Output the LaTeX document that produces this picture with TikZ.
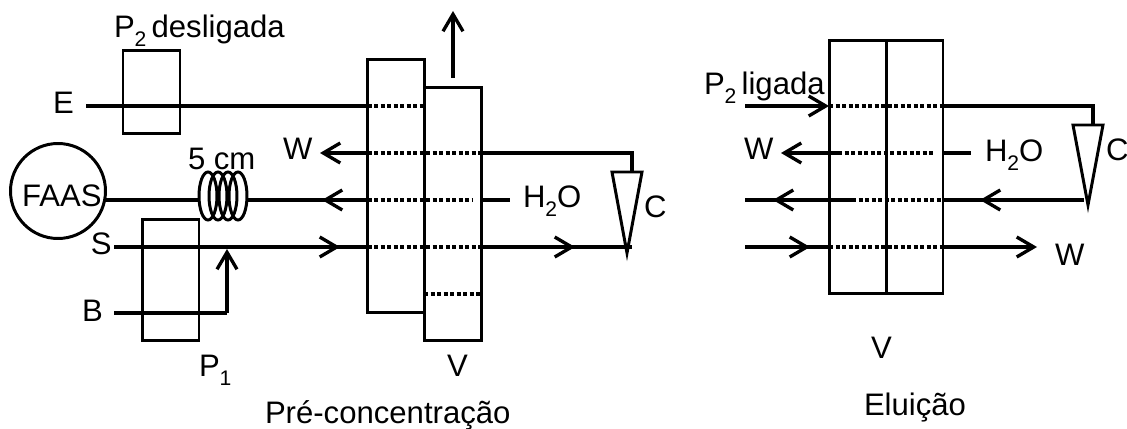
\documentclass[tikz,border=0pt]{standalone}
\usepackage{fontspec}
\setmainfont{Liberation Sans}
\usetikzlibrary{arrows.meta}
\newcommand{\indice}[1]{\raisebox{-5pt}{\fontsize{12}{12}\selectfont #1}}
\tikzset{
  caixa/.style={draw, line width=1.7pt, minimum width=1.14cm, inner sep=0pt, outer sep=0pt},
  rotulo/.style={anchor=base west, inner sep=0pt, outer sep=0pt},
  tubo/.style={line width=2.2pt},
  furo/.style={line width=2.2pt, dash pattern=on 2.4pt off 1.3pt},
  seta/.style={tubo, -{Straight Barb[length=3.4mm, width=4mm, line width=1.9pt]}},
  bobina/.style={line width=1.7pt},
  cone/.style={draw, line width=1.7pt, fill=white}
}
\begin{document}
\begin{tikzpicture}[x=0.02cm, y=-0.02cm, font=\fontsize{17.7}{19}\selectfont]
  \useasboundingbox (0,0) rectangle (1127,429);

  % pre-concentracao
  \node[caixa, minimum height=1.68cm] (ptwo) at (151.5,92) {};
  \node[caixa, minimum height=2.44cm] (pone) at (170.5,280) {};
  \node[caixa, minimum height=5.08cm] (vesq) at (396,186) {};
  \node[caixa, minimum height=5.08cm] (vdir) at (453,214) {};
  \node[draw, circle, line width=1.7pt, minimum size=1.9cm, inner sep=0pt, outer sep=0pt] (faas) at (58,191) {};

  \node[rotulo] (lptwo) at (114,38) {P\indice{2}\,desligada};
  \node[rotulo] (le) at (53,114) {E};
  \node[rotulo] (lw) at (283,160) {W};
  \node[rotulo] (lcm) at (188,170) {5 cm};
  \node[rotulo] (lfaas) at (22,207) {FAAS};
  \node[rotulo] (ls) at (91,255) {S};
  \node[rotulo] (lb) at (82,321) {B};
  \node[rotulo] (lpone) at (199,377) {P\indice{1}};
  \node[rotulo] (lv) at (447,377) {V};
  \node[rotulo] (lagua) at (523,208) {H\indice{2}O};
  \node[rotulo] (lc) at (644,217) {C};
  \node[rotulo] (ltitulo) at (265,423) {Pré-concentração};

  \coordinate (e) at (86,106);
  \coordinate (ef) at (423,106);
  \coordinate (saida) at (453,78);
  \coordinate (topo) at (453,11);
  \coordinate (wtip) at (320,153);
  \coordinate (canto) at (632,153);
  \coordinate (ctopo) at (632,172);
  \coordinate (bico) at (627,253);
  \coordinate (s) at (114,247);
  \coordinate (cfim) at (632,247);
  \coordinate (b) at (114,313);
  \coordinate (bcanto) at (227,313);
  \coordinate (bfim) at (227,249);
  \coordinate (bobe) at (198,200);
  \coordinate (bobd) at (247,200);
  \coordinate (aguafim) at (510,200);

  \draw[tubo] (e) -- (vesq.west |- e);
  \draw[furo] (vesq.west |- e) -- (ef);
  \draw[seta] (saida) -- (topo);
  \draw[seta] (vesq.west |- wtip) -- (wtip);
  \draw[furo] (vesq.west |- wtip) -- (vdir.east |- wtip);
  \draw[tubo] (vdir.east |- wtip) -- (canto) -- (ctopo);
  \draw[tubo] (faas.east |- bobe) -- (bobe);
  \draw[tubo] (vesq.west |- bobd) -- (bobd);
  \draw[seta] (vesq.west |- bobd) -- (322,200);
  \draw[furo] (vesq.west |- bobd) -- (472,200);
  \draw[tubo] (483,200) -- (aguafim);
  \draw[tubo] (s) -- (vesq.west |- s);
  \draw[seta] (s) -- (340,247);
  \draw[furo] (vesq.west |- s) -- (vdir.east |- s);
  \draw[tubo] (vdir.east |- s) -- (cfim);
  \draw[seta] (vdir.east |- s) -- (575,247);
  \draw[furo] (424,294) -- (481,294);
  \draw[tubo] (b) -- (bcanto);
  \draw[seta] (bcanto) -- (bfim);
  \foreach \cx in {208,218,228,238}
    \draw[bobina] (\cx,196) ellipse (9 and 24);
  \draw[cone] (612,172) -- (642,172) -- (bico) -- cycle;

  % eluicao
  \node[caixa, minimum height=5.08cm] (eesq) at (857.5,167) {};
  \node[caixa, minimum height=5.08cm] (edir) at (914.5,167) {};

  \node[rotulo] (lpdois) at (704,95) {P\indice{2}\,ligada};
  \node[rotulo] (lwa) at (744,160) {W};
  \node[rotulo] (laguab) at (985,162) {H\indice{2}O};
  \node[rotulo] (lcb) at (1106,161) {C};
  \node[rotulo] (lwb) at (1055,265) {W};
  \node[rotulo] (lvb) at (871,358) {V};
  \node[rotulo] (ltitulob) at (864,415) {Eluição};

  \coordinate (ea) at (745,106);
  \coordinate (ecanto) at (1093,106);
  \coordinate (ectopo) at (1093,125);
  \coordinate (ebico) at (1088,205);
  \coordinate (ewtip) at (781,153);
  \coordinate (eagua) at (971,153);
  \coordinate (ec) at (745,200);
  \coordinate (ecfim) at (1084,200);
  \coordinate (ed) at (745,247);
  \coordinate (edfim) at (1037,247);

  \draw[seta] (ea) -- (eesq.west |- ea);
  \draw[furo] (eesq.west |- ea) -- (edir.east |- ea);
  \draw[tubo] (edir.east |- ea) -- (ecanto) -- (ectopo);
  \draw[seta] (838,153) -- (ewtip);
  \draw[furo] (838,153) -- (933,153);
  \draw[tubo] (edir.east |- eagua) -- (eagua);
  \draw[seta] (852,200) -- (773,200);
  \draw[tubo] (ec) -- (852,200);
  \draw[furo] (852,200) -- (edir.east |- ec);
  \draw[seta] (ecfim) -- (980,200);
  \draw[tubo] (edir.east |- ec) -- (ecfim);
  \draw[seta] (ed) -- (810,247);
  \draw[tubo] (ed) -- (eesq.west |- ed);
  \draw[furo] (eesq.west |- ed) -- (edir.east |- ed);
  \draw[seta] (edir.east |- ed) -- (edfim);
  \draw[cone] (1073,125) -- (1103,125) -- (ebico) -- cycle;
\end{tikzpicture}
\end{document}
